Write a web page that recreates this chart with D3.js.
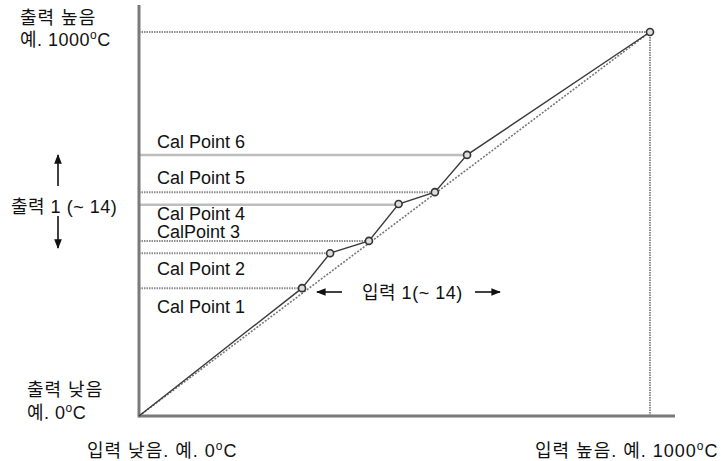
<!DOCTYPE html>
<html><head><meta charset="utf-8">
<script src="https://cdn.jsdelivr.net/npm/d3@7"></script>
<style>
body{margin:0;background:#fff;}
text{font-family:"Liberation Sans",Arial,"Noto Sans CJK KR",sans-serif;font-size:18px;fill:#111;}
text.ko{letter-spacing:1px;}
text.ko2{letter-spacing:0.5px;}
</style></head><body>
<svg id="c" width="721" height="461"></svg>
<script>
// Data (input vs output, 0-1000 scale)
const inputs  = [0, 319, 374, 450, 508, 579, 642, 1000];
const outputs = [0, 333, 424, 456, 552, 583, 680, 1000];
const calLabels = ["Cal Point 1","Cal Point 2","CalPoint 3","Cal Point 4","Cal Point 5","Cal Point 6"];
const calLabelOut = [286, 386, 482, 529, 622, 716];
const guideOut  = [333, 424, 456, 550, 583, 680, 1000];
const guideX    = [319, 374, 450, 508, 579, 642, 1000];
const guideSolid= [false, false, false, true, false, true, false];

const svg = d3.select("#c");
const x = d3.scaleLinear().domain([0,1000]).range([139,650]);
const y = d3.scaleLinear().domain([0,1000]).range([416,32]);

// guide lines
guideOut.forEach((o,i)=>{
  svg.append("line").attr("x1",x(0)).attr("x2",x(guideX[i])).attr("y1",y(o)).attr("y2",y(o))
    .attr("stroke", guideSolid[i] ? "#bdbdbd" : "#8c8c8c")
    .attr("stroke-width", guideSolid[i] ? 2.5 : 2)
    .attr("stroke-dasharray", guideSolid[i] ? null : "1.5,1");
});
// vertical dotted at high input
svg.append("line").attr("x1",x(1000)).attr("x2",x(1000)).attr("y1",y(1000)).attr("y2",y(0))
  .attr("stroke","#8c8c8c").attr("stroke-width",2).attr("stroke-dasharray","1.5,1");

// ideal diagonal (dotted)
svg.append("line").attr("x1",x(0)).attr("y1",y(0)).attr("x2",x(1000)).attr("y2",y(1000))
  .attr("stroke","#777").attr("stroke-width",1.6).attr("stroke-dasharray","2,1.5");

// axes
svg.append("line").attr("x1",x(0)).attr("x2",x(0)).attr("y1",5).attr("y2",y(0)+1.5)
  .attr("stroke","#7a7a7a").attr("stroke-width",3);
svg.append("line").attr("x1",x(0)).attr("x2",675).attr("y1",y(0)).attr("y2",y(0))
  .attr("stroke","#7a7a7a").attr("stroke-width",3);

// calibration polyline
const pts = inputs.map((v,i)=>[v,outputs[i]]);
svg.append("path").attr("d", d3.line().x(d=>x(d[0])).y(d=>y(d[1]))(pts))
  .attr("fill","none").attr("stroke","#3a3a3a").attr("stroke-width",1.4);
svg.selectAll("circle.p").data(pts.slice(1)).join("circle")
  .attr("cx",d=>x(d[0])).attr("cy",d=>y(d[1])).attr("r",3.5)
  .attr("fill","#ddd").attr("stroke","#333").attr("stroke-width",1.6);

// cal labels
calLabels.forEach((t,i)=>{
  svg.append("text").attr("x",157).attr("y",y(calLabelOut[i])+7).text(t);
});

// arrow markers
const defs = svg.append("defs");
defs.append("marker").attr("id","ah").attr("viewBox","0 0 10 10").attr("refX",9).attr("refY",5)
  .attr("markerWidth",6).attr("markerHeight",6).attr("orient","auto-start-reverse")
  .append("path").attr("d","M0,1 L10,5 L0,9 Z").attr("fill","#111");

function degText(xp, yp, pre, post, cls){
  const t = svg.append("text").attr("class",cls||"ko").attr("x",xp).attr("y",yp);
  t.append("tspan").text(pre);
  t.append("tspan").attr("font-size","12px").attr("dy",-7).text("o");
  t.append("tspan").attr("dy",7).text(post);
}
svg.append("text").attr("class","ko").attr("x",20).attr("y",24).text("출력 높음");
degText(20, 46, "예. 1000", "C", "ko2");
svg.append("text").attr("class","ko").attr("x",27).attr("y",396).text("출력 낮음");
degText(27, 419, "예. 0", "C", "ko2");
degText(87, 457, "입력 낮음. 예. 0", "C");
degText(535, 457, "입력 높음. 예. 1000", "C");

svg.append("text").attr("class","ko2").attr("x",11).attr("y",213).text("출력 1 (~ 14)");
svg.append("line").attr("x1",58).attr("x2",58).attr("y1",186).attr("y2",155)
  .attr("stroke","#111").attr("stroke-width",1.6).attr("marker-end","url(#ah)");
svg.append("line").attr("x1",58).attr("x2",58).attr("y1",216).attr("y2",248)
  .attr("stroke","#111").attr("stroke-width",1.6).attr("marker-end","url(#ah)");

svg.append("text").attr("class","ko2").attr("x",362).attr("y",299).text("입력 1(~ 14)");
svg.append("line").attr("x1",342).attr("x2",317).attr("y1",292).attr("y2",292)
  .attr("stroke","#111").attr("stroke-width",1.6).attr("marker-end","url(#ah)");
svg.append("line").attr("x1",475).attr("x2",500).attr("y1",292).attr("y2",292)
  .attr("stroke","#111").attr("stroke-width",1.6).attr("marker-end","url(#ah)");
</script>
</body></html>
